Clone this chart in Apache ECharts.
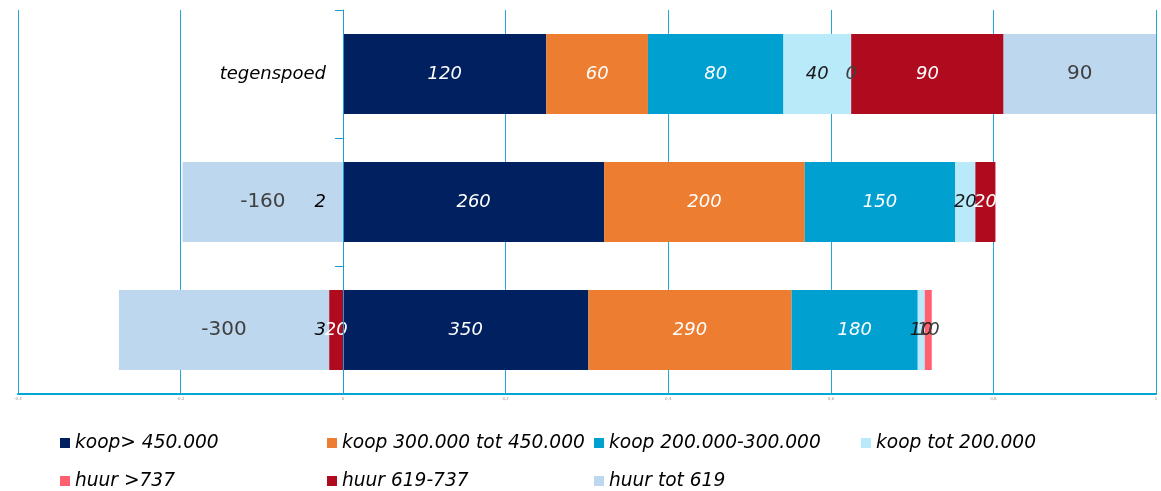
<!DOCTYPE html>
<html>
<head>
<meta charset="utf-8">
<script src="https://cdn.jsdelivr.net/npm/echarts@6/dist/echarts.min.js"></script>
<style>html,body{margin:0;padding:0;background:#fff}#c{width:1161px;height:491px}</style>
</head>
<body>
<div id="c"></div>
<script>
// categories, top to bottom
const categories = ['tegenspoed', '2', '3'];
// series values (as labelled in the chart), per category
const koop450plus   = [120, 260, 350];
const koop300to450  = [60, 200, 290];
const koop200to300  = [80, 150, 180];
const koopTot200    = [40, 20, 10];
const huur737plus   = [0, null, 10];
const huur619to737  = [90, 20, -20];
const huurTot619    = [90, -160, -300];
const seriesNames = ['koop> 450.000', 'koop 300.000 tot 450.000', 'koop 200.000-300.000', 'koop tot 200.000', 'huur >737', 'huur 619-737', 'huur tot 619'];
const xTicks = ['-0,4', '-0,2', '0', '0,2', '0,4', '0,6', '0,8', '1'];

const allSeries = [koop450plus, koop300to450, koop200to300, koopTot200, huur737plus, huur619to737, huurTot619];
const colors = ['#002060', '#ED7D31', '#00A0D1', '#B8EAFA', '#FF5F6E', '#B00A1E', '#BDD7EE'];
const labelColors = ['#ffffff', '#ffffff', '#ffffff', '#1a1a1a', '#404040', '#ffffff', '#404040'];

// each bar is drawn as its share of the row's absolute total (100% chart)
const rowTotals = categories.map((_, i) => allSeries.reduce((s, arr) => s + Math.abs(arr[i] || 0), 0));

const series = allSeries.map((arr, k) => ({
  name: seriesNames[k],
  type: 'bar',
  stack: 'total',
  barWidth: 80,
  itemStyle: { color: colors[k] },
  data: arr.map((v, i) => v === null ? null : { value: v / rowTotals[i], raw: v }),
  label: {
    show: true,
    position: 'inside',
    fontFamily: 'DejaVu Sans',
    fontStyle: k === 6 ? 'normal' : 'italic',
    fontSize: k === 6 ? 20 : 18,
    color: labelColors[k],
    formatter: p => (k === 5 ? String(Math.abs(p.data.raw)) : String(p.data.raw))
  },
  z: 2
}));

const chart = echarts.init(document.getElementById('c'), null, { renderer: 'canvas' });
chart.setOption({
  animation: false,
  textStyle: { fontFamily: 'DejaVu Sans' },
  grid: { left: 18, right: 5, top: 10, bottom: 97, containLabel: false, outerBoundsMode: 'none' },
  xAxis: {
    type: 'value',
    min: -0.4, max: 1, interval: 0.2,
    axisLine: { show: true, onZero: false, lineStyle: { color: '#00A6D6', width: 2 } },
    axisTick: { show: false },
    splitLine: { show: true, lineStyle: { color: '#22A8DA', width: 1 } },
    axisLabel: { fontSize: 4, color: '#999', margin: 3, formatter: (v) => xTicks[Math.round((v + 0.4) / 0.2)] }
  },
  yAxis: {
    type: 'category',
    data: categories,
    inverse: true,
    z: 10,
    offset: -325,
    axisLine: { show: true, onZero: false, lineStyle: { color: '#1E9BD7', width: 1 } },
    axisTick: { show: true, length: 8, lineStyle: { color: '#1E9BD7' } },
    axisLabel: { margin: 17, fontSize: 18, fontStyle: 'italic', color: '#000', fontFamily: 'DejaVu Sans' }
  },
  legend: {
    data: seriesNames,
    left: 55, top: 419, width: 1100,
    itemWidth: 10, itemHeight: 10, itemGap: 0,
    icon: 'rect',
    textStyle: { fontSize: 18.6, fontStyle: 'italic', color: '#000', width: 252, lineHeight: 38, fontFamily: 'DejaVu Sans' }
  },
  series: series
});
</script>
</body>
</html>
